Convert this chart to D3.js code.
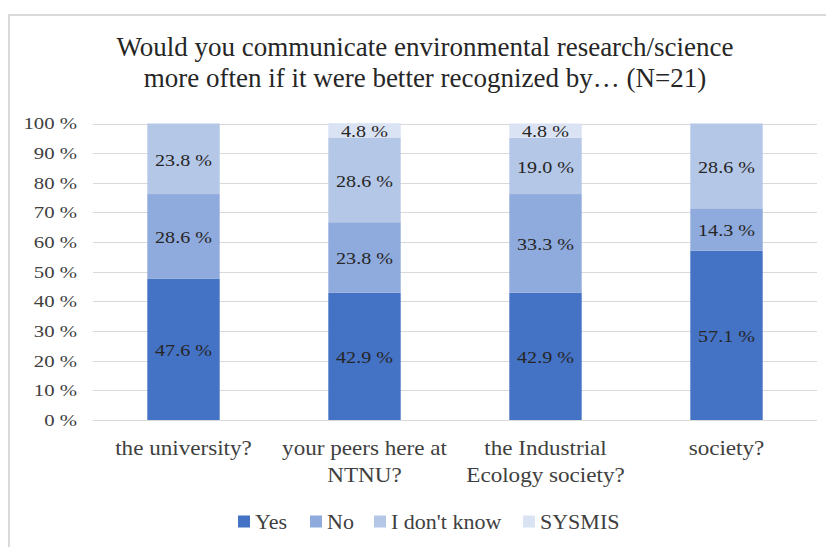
<!DOCTYPE html>
<html>
<head>
<meta charset="utf-8">
<script src="https://cdn.jsdelivr.net/npm/d3@7"></script>
</head>
<body style="margin:0">
<div class="chart"></div>
<script>
// ============================================================================
// Data
// ============================================================================

var categories = [
  ['the university?'],
  ['your peers here at', 'NTNU?'],
  ['the Industrial', 'Ecology society?'],
  ['society?']
];
var seriesNames = ['Yes', 'No', "I don't know", 'SYSMIS'];
var yesValues = [47.6, 42.9, 42.9, 57.1];
var noValues = [28.6, 23.8, 33.3, 14.3];
var dontKnowValues = [23.8, 28.6, 19.0, 28.6];
var sysmisValues = [0, 4.8, 4.8, 0];
var yTicks = [0, 10, 20, 30, 40, 50, 60, 70, 80, 90, 100];
var colors = ['#4472c4', '#8faadc', '#b4c7e7', '#dae3f3'];

// ============================================================================
// Create SVG
// ============================================================================

var svgWidth = 827;
var svgHeight = 547;

var svg = d3.select('.chart')
  .append('svg')
  .attr('width', svgWidth)
  .attr('height', svgHeight)
  .attr('font-family', 'Liberation Serif');

// outer chart frame
svg.append('path')
  .attr('d', 'M9,' + svgHeight + ' V15 H826')
  .attr('fill', 'none')
  .attr('stroke', '#d9d9d9')
  .attr('stroke-width', 2);

// title
var title = svg.append('text')
  .attr('text-anchor', 'middle')
  .attr('font-size', 27)
  .attr('fill', '#262626');
title.append('tspan').attr('x', 425).attr('y', 56)
  .text('Would you communicate environmental research/science');
title.append('tspan').attr('x', 425).attr('y', 87)
  .text('more often if it were better recognized by\u2026 (N=21)');

// ============================================================================
// Scales + axes
// ============================================================================

var keys = d3.range(categories.length);

var xScale = d3.scaleBand()
  .domain(keys)
  .range([93, 817])
  .paddingInner(0.6)
  .paddingOuter(0.3);

var yScale = d3.scaleLinear()
  .domain([0, 100])
  .range([420, 123.5]);

// gridlines
svg.append('g')
  .selectAll('line')
  .data(yTicks)
  .enter()
    .append('line')
    .attr('x1', 93)
    .attr('x2', 817)
    .attr('y1', d => Math.round(yScale(d)) + 0.5)
    .attr('y2', d => Math.round(yScale(d)) + 0.5)
    .attr('stroke', '#d9d9d9')
    .attr('stroke-width', 1);

// y axis labels
var yAxis = d3.axisLeft(yScale)
  .tickValues(yTicks)
  .tickFormat(d => d + ' %')
  .tickSize(0)
  .tickPadding(16);

var yAxisG = svg.append('g')
  .attr('transform', 'translate(93,0)')
  .call(yAxis)
  .attr('font-family', 'Liberation Serif')
  .attr('font-size', 17);
yAxisG.select('.domain').remove();
yAxisG.selectAll('text')
  .attr('fill', '#404040')
  .classed('wide', true)
  .attr('data-k', 1.22);

// ============================================================================
// Stacked bars
// ============================================================================

var rows = keys.map(function(i) {
  return {
    idx: i,
    'Yes': yesValues[i],
    'No': noValues[i],
    "I don't know": dontKnowValues[i],
    'SYSMIS': sysmisValues[i]
  };
});

var stacked = d3.stack().keys(seriesNames)(rows);

var layers = svg.append('g')
  .selectAll('g')
  .data(stacked)
  .enter()
    .append('g')
    .attr('fill', (d, i) => colors[i]);

layers.selectAll('rect')
  .data(d => d)
  .enter()
    .append('rect')
    .attr('x', d => xScale(d.data.idx))
    .attr('width', xScale.bandwidth())
    .attr('y', d => yScale(d[1]))
    .attr('height', d => yScale(d[0]) - yScale(d[1]));

// value labels
layers.selectAll('text')
  .data(d => d.filter(s => s[1] - s[0] > 0))
  .enter()
    .append('text')
    .attr('x', d => xScale(d.data.idx) + xScale.bandwidth() / 2)
    .attr('y', d => yScale((d[0] + d[1]) / 2))
    .attr('dy', '0.4em')
    .attr('text-anchor', 'middle')
    .attr('font-size', 17)
    .attr('fill', '#262626')
    .classed('wide', true)
    .attr('data-k', 1.18)
    .text(d => (d[1] - d[0]).toFixed(1) + ' %');

// bottom axis line
svg.append('line')
  .attr('x1', 93)
  .attr('x2', 817)
  .attr('y1', 420.5)
  .attr('y2', 420.5)
  .attr('stroke', '#d9d9d9');

// category labels
var catLabels = svg.append('g')
  .selectAll('text')
  .data(categories)
  .enter()
    .append('text')
    .attr('text-anchor', 'middle')
    .attr('font-size', 22)
    .attr('fill', '#404040');

catLabels.selectAll('tspan')
  .data((d, i) => d.map(line => ({ line: line, i: i })))
  .enter()
    .append('tspan')
    .attr('x', d => xScale(d.i) + xScale.bandwidth() / 2)
    .attr('y', (d, j) => 455 + j * 27)
    .classed('wide', true)
    .attr('data-k', 1.05)
    .text(d => d.line);

// ============================================================================
// Legend
// ============================================================================

var legendX = [238, 310, 374, 523];

var legend = svg.append('g')
  .selectAll('g')
  .data(seriesNames)
  .enter()
    .append('g')
    .attr('transform', (d, i) => `translate(${legendX[i]}, 521.5)`);

legend.append('rect')
  .attr('x', 0)
  .attr('y', -6)
  .attr('width', 12)
  .attr('height', 12)
  .attr('fill', (d, i) => colors[i]);

legend.append('text')
  .attr('x', 17)
  .attr('y', 0)
  .attr('dy', '0.35em')
  .attr('font-size', 20)
  .attr('fill', '#404040')
  .classed('wide', true)
  .attr('data-k', 1.1)
  .text(d => d);

// serif font on every text element
svg.selectAll('text').style('font-family', '"Liberation Serif"');

// the reference glyphs are a little wider than Times: stretch them
svg.selectAll('.wide').each(function() {
  var k = +this.getAttribute('data-k');
  var len = this.getComputedTextLength();
  d3.select(this)
    .attr('textLength', len * k)
    .attr('lengthAdjust', 'spacingAndGlyphs');
});
</script>
</body>
</html>
